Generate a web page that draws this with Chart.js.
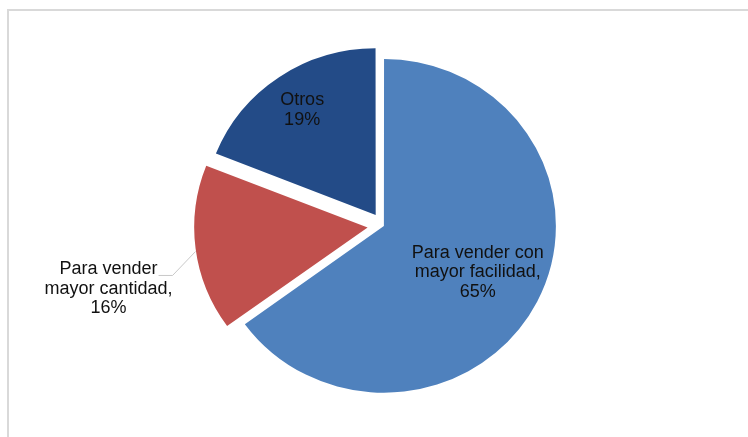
<!DOCTYPE html>
<html>
<head>
<meta charset="utf-8">
<script src="https://cdn.jsdelivr.net/npm/chart.js@4/dist/chart.umd.min.js"></script>
<style>
  html, body { margin: 0; padding: 0; background: #fff; overflow: hidden; }
  #wrap { position: relative; width: 748px; height: 437px; }
  #frame { position: absolute; left: 7px; top: 9px; width: 800px; height: 500px;
           border-left: 2px solid #d9d9d9; border-top: 2px solid #d9d9d9; }
  #myChart { position: absolute; left: 0; top: 0; }
</style>
</head>
<body>
<div id="wrap">
  <div id="frame"></div>
  <canvas id="myChart" width="748" height="437"></canvas>
</div>
<script>
// pie data
const categories = ['Para vender con mayor facilidad', 'Para vender mayor cantidad', 'Otros'];
const labelLines = [['Para vender con', 'mayor facilidad,'], ['Para vender', 'mayor cantidad,'], ['Otros']];
const percents = [65, 16, 19];
const colors = ['#4F81BD', '#C0504D', '#234B87'];

// the original pie is a little flattened
const squashY = 0.97;

// offset as chart.js v4 arc draws it
function arcShift(arc) {
    const off = (arc.options.offset || 0) / 4;
    const circ = arc.endAngle - arc.startAngle;
    const fix = 1 - Math.sin(Math.min(Math.PI, circ || 0));
    return off * (1 + fix);
}

const labelPlugin = {
    id: 'pieLabels',
    beforeDatasetsDraw(chart) {
        const arc = chart.getDatasetMeta(0).data[0];
        const ctx = chart.ctx;
        ctx.save();
        ctx.translate(arc.x, arc.y);
        ctx.scale(1, squashY);
        ctx.translate(-arc.x, -arc.y);
    },
    afterDatasetsDraw(chart) {
        const ctx = chart.ctx;
        ctx.restore();
        const arcs = chart.getDatasetMeta(0).data;
        const inside = [0.61, null, 0.76];
        ctx.save();
        ctx.font = '18px "Liberation Sans", Arial, sans-serif';
        ctx.fillStyle = '#111';
        ctx.textAlign = 'center';
        ctx.textBaseline = 'middle';
        arcs.forEach((arc, i) => {
            const mid = (arc.startAngle + arc.endAngle) / 2;
            const s = arcShift(arc);
            const toY = (y) => arc.y + (y - arc.y) * squashY;
            const cx = arc.x + Math.cos(mid) * s;
            const cy = arc.y + Math.sin(mid) * s;
            const lines = labelLines[i].concat([percents[i] + '%']);
            const lh = 19.5;
            if (inside[i] !== null) {
                const r = arc.outerRadius * inside[i];
                const tx = cx + Math.cos(mid) * r;
                const ty = toY(cy + Math.sin(mid) * r);
                lines.forEach((t, k) => {
                    ctx.fillText(t, tx, ty + (k - (lines.length - 1) / 2) * lh);
                });
            } else {
                // outside label with leader line
                const ex = cx + Math.cos(mid) * arc.outerRadius;
                const ey = toY(cy + Math.sin(mid) * arc.outerRadius) + 3;
                const bx = ex - 23, by = ey + 24;
                const lx = bx - 14;
                ctx.strokeStyle = '#c8c8c8';
                ctx.lineWidth = 1;
                ctx.beginPath();
                ctx.moveTo(ex, ey);
                ctx.lineTo(bx, by);
                ctx.lineTo(lx, by);
                ctx.stroke();
                const tx = lx - 50;
                const ty = by - 6;
                lines.forEach((t, k) => {
                    ctx.fillText(t, tx, ty + k * lh);
                });
            }
        });
        ctx.restore();
    }
};

const data = {
    labels: categories,
    datasets: [{
        data: percents,
        backgroundColor: colors,
        borderWidth: 0,
        offset: [4, 62, 52],
        radius: 171
    }]
};

const config = {
    type: 'pie',
    data: data,
    options: {
        responsive: false,
        animation: false,
        events: [],
        layout: { padding: { left: 18, right: 0, top: 14, bottom: 0 } },
        plugins: {
            legend: { display: false },
            tooltip: { enabled: false }
        }
    },
    plugins: [labelPlugin]
};

const myChart = new Chart(document.getElementById('myChart'), config);
</script>
</body>
</html>
